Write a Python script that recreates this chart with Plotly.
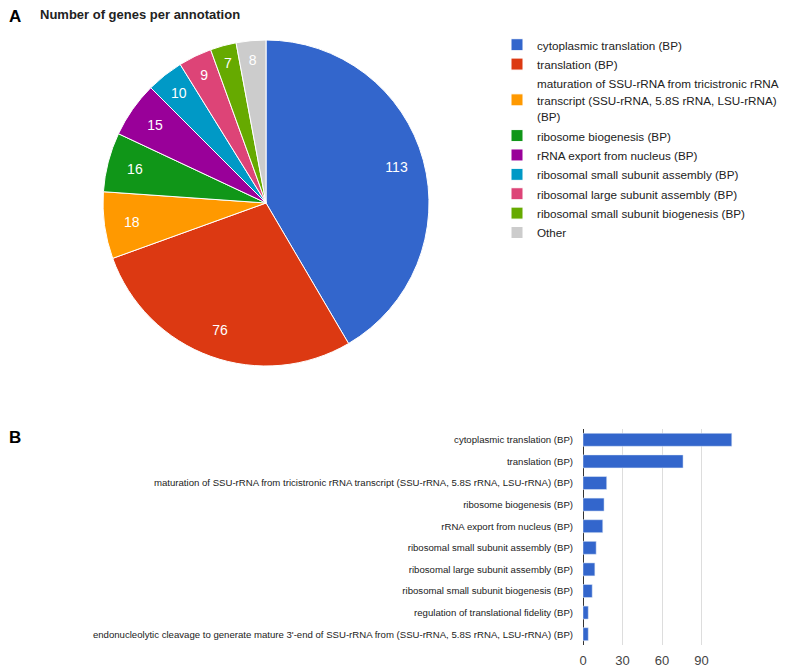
import plotly.graph_objects as go

pie_labels = [
    "cytoplasmic translation (BP)",
    "translation (BP)",
    "maturation of SSU-rRNA from tricistronic rRNA<br>transcript (SSU-rRNA, 5.8S rRNA, LSU-rRNA)<br>(BP)",
    "ribosome biogenesis (BP)",
    "rRNA export from nucleus (BP)",
    "ribosomal small subunit assembly (BP)",
    "ribosomal large subunit assembly (BP)",
    "ribosomal small subunit biogenesis (BP)",
    "Other",
]
pie_values = [113, 76, 18, 16, 15, 10, 9, 7, 8]
pie_colors = ["#3366cc", "#dc3912", "#ff9900", "#109618", "#990099",
              "#0099c6", "#dd4477", "#66aa00", "#cccccc"]

bar_labels = [
    "cytoplasmic translation (BP)",
    "translation (BP)",
    "maturation of SSU-rRNA from tricistronic rRNA transcript (SSU-rRNA, 5.8S rRNA, LSU-rRNA) (BP)",
    "ribosome biogenesis (BP)",
    "rRNA export from nucleus (BP)",
    "ribosomal small subunit assembly (BP)",
    "ribosomal large subunit assembly (BP)",
    "ribosomal small subunit biogenesis (BP)",
    "regulation of translational fidelity (BP)",
    "endonucleolytic cleavage to generate mature 3'-end of SSU-rRNA from (SSU-rRNA, 5.8S rRNA, LSU-rRNA) (BP)",
]
bar_values = [113, 76, 18, 16, 15, 10, 9, 7, 4, 4]
x_ticks = [0, 30, 60, 90, 120]
x_ticktext = ["0", "30", "60", "90", ""]

FONT = "Arial, Liberation Sans, sans-serif"
OFF = 8  # default page body margin
W, H = 787 - OFF, 671 - OFF


def px(sx):
    return (sx - OFF) / W


def py(sy):
    return 1 - (sy - OFF) / H


def small(label):
    # render legend glyphs at 11.7px while keeping the looser legend line spacing
    return "<br>".join('<span style="font-size:11.7px">%s</span>' % part
                       for part in label.split("<br>"))


legend_labels = [small(l) for l in pie_labels]
CX, CY, R = 266, 203, 163
pie_domain = dict(x=[px(CX - R), px(CX + R)], y=[py(CY + R), py(CY - R)])
RL = 156.5
label_domain = dict(x=[px(CX - RL), px(CX + RL)], y=[py(CY + RL), py(CY - RL)])

fig = go.Figure()

fig.add_trace(go.Pie(
    labels=legend_labels,
    values=pie_values,
    marker=dict(colors=pie_colors, line=dict(color="white", width=1)),
    sort=False,
    direction="clockwise",
    rotation=0,
    textinfo="none",
    domain=pie_domain,
    showlegend=True,
    hoverinfo="value",
))

# transparent ring carrying the value labels near the rim
fig.add_trace(go.Pie(
    labels=legend_labels,
    values=pie_values,
    marker=dict(colors=["rgba(0,0,0,0)"] * len(pie_values), line=dict(width=0)),
    hole=0.73,
    sort=False,
    direction="clockwise",
    rotation=0,
    textinfo="value",
    textposition="inside",
    insidetextorientation="horizontal",
    textfont=dict(color="white", size=14, family=FONT),
    domain=label_domain,
    showlegend=False,
    hoverinfo="skip",
))

fig.add_trace(go.Bar(
    y=bar_labels,
    x=bar_values,
    orientation="h",
    marker=dict(color="#3366cc"),
    width=0.6,
    xaxis="x",
    yaxis="y",
    showlegend=False,
))

fig.update_layout(
    width=W,
    height=H,
    margin=dict(l=0, r=0, t=0, b=0, autoexpand=False),
    paper_bgcolor="white",
    plot_bgcolor="white",
    font=dict(family=FONT, color="#222222", size=12),
    legend=dict(
        x=px(497), y=py(30), xanchor="left", yanchor="top",
        font=dict(size=12.6, color="#222222", family=FONT),
        tracegroupgap=0,
        itemwidth=30,
    ),
    xaxis=dict(
        domain=[px(583), px(741)],
        range=[0, 120],
        tickvals=x_ticks,
        ticktext=x_ticktext,
        showgrid=True,
        gridcolor="#dddddd",
        zeroline=True,
        zerolinecolor="#333333",
        zerolinewidth=1,
        tickfont=dict(size=13, color="#444444"),
        ticks="",
        ticklabelstandoff=6,
        anchor="y",
        automargin=False,
        fixedrange=True,
    ),
    yaxis=dict(
        domain=[py(645), py(429)],
        autorange="reversed",
        tickfont=dict(size=9.6, color="#222222"),
        ticks="",
        showgrid=False,
        anchor="x",
        automargin=False,
        ticklabelstandoff=9,
    ),
    annotations=[
        dict(text="<b>A</b>", x=px(7), y=1, xref="paper", yref="paper",
             xanchor="left", yanchor="top", yshift=3, showarrow=False,
             font=dict(size=17, color="black", family=FONT)),
        dict(text="<b>Number of genes per annotation</b>", x=px(38), y=1,
             xref="paper", yref="paper", xanchor="left", yanchor="top", yshift=3,
             showarrow=False, font=dict(size=13, color="#222222", family=FONT)),
        dict(text="<b>B</b>", x=px(7), y=py(437), xref="paper", yref="paper",
             xanchor="left", yanchor="middle", showarrow=False,
             font=dict(size=17, color="black", family=FONT)),
    ],
)

fig.write_html("out.html")
